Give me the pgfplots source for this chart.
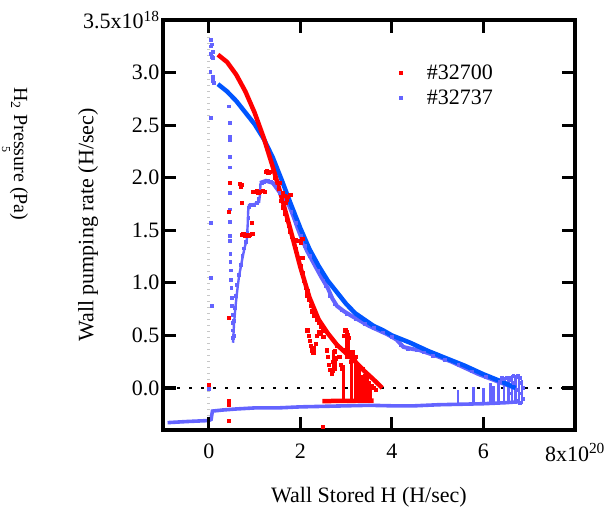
\documentclass[border=0pt]{standalone}
\usepackage{pgfplots}
\pgfplotsset{compat=1.18}
\usepackage{fontspec}
\setmainfont{Liberation Serif}
\definecolor{fitblue}{RGB}{0,85,255}
\definecolor{ptblue}{RGB}{100,100,255}
\definecolor{ptred}{RGB}{255,0,0}
\newcommand{\bigf}{\fontsize{22}{26}\selectfont}
\begin{document}
\begin{tikzpicture}
\begin{axis}[
  at={(163pt,82pt)}, anchor=south west,
  scale only axis, width=412pt, height=410pt,
  xmin=-1, xmax=8, ymin=-0.4, ymax=3.5,
  axis line style={line width=2.8pt},
  every tick/.style={line width=2.8pt, black},
  major tick length=12pt,
  tick align=inside,
  xtick={0,2,4,6,8}, xticklabels={0,2,4,6,8x10\textsuperscript{20}},
  ytick={0,0.5,1,1.5,2,2.5,3,3.5}, yticklabels={0.0,0.5,1.0,1.5,2.0,2.5,3.0,3.5x10\textsuperscript{18}},
  tick label style={font=\bigf},
  xticklabel style={yshift=-10pt},
  every axis x label/.style={at={(axis description cs:0.5,-0.163)}, anchor=center},
  every axis y label/.style={at={(axis description cs:-0.182,0.5)}, rotate=90, anchor=center},
  label style={font=\bigf},
  xlabel={Wall Stored H (H/sec)},
  ylabel={Wall pumping rate (H/sec)},
  legend style={draw=none, fill=none, font=\bigf, at={(axis description cs:0.688,0.841)}, anchor=center, row sep=5pt},
  legend cell align=left,
  legend image code/.code={\path[draw=none,fill=none] (0pt,-2pt) rectangle (27pt,2pt); \draw[mark repeat=2,mark phase=2,#1] plot coordinates {(0pt,0pt)(3pt,0pt)(27pt,0pt)};},
  unbounded coords=jump,
  clip=false,
]
% reference lines
\addplot[forget plot, black, line width=2.6pt, dash pattern=on 2.6pt off 9.4pt] coordinates {(-0.95,0) (8,0)};
\addplot[forget plot, black!22, line width=2.6pt, dash pattern=on 1pt off 5pt] coordinates {(0,-0.38) (0,3.45)};

% ---------- #32737 (blue points) ----------
\addplot[forget plot, ptblue, line width=3.6pt] coordinates {
(-0.9,-0.33)(-0.5,-0.32)(0.0,-0.31)(0.05,-0.30)(0.08,-0.22)(0.3,-0.21)(0.6,-0.20)(1.0,-0.19)(1.5,-0.19)(2.0,-0.18)(2.5,-0.175)(3.0,-0.17)(3.5,-0.165)(4.0,-0.17)(4.5,-0.17)(5.0,-0.16)(5.5,-0.155)(6.0,-0.15)(6.5,-0.14)(6.8,-0.13)};
\addplot[forget plot, ptblue, line width=2.4pt] coordinates {
(5.45,-0.16)(5.45,-0.02)(5.45,nan)
(5.78,-0.15)(5.78,0.01)(5.78,nan)
(6.0,-0.15)(6.0,0.0)(6.0,nan)
(6.15,-0.15)(6.15,0.05)(6.15,nan)
(6.22,-0.15)(6.22,0.02)(6.22,nan)
(6.33,-0.15)(6.33,0.06)(6.33,nan)
(6.45,-0.14)(6.45,0.09)(6.45,nan)
(6.55,-0.14)(6.55,0.10)(6.55,nan)
(6.62,-0.15)(6.62,0.12)(6.62,nan)
(6.70,-0.15)(6.70,0.10)(6.70,nan)
(6.78,-0.16)(6.78,0.12)(6.78,nan)
(6.84,-0.15)(6.84,0.08)};
% descending band
\addplot[forget plot, ptblue, line width=4pt] coordinates {
(1.12,1.95)(1.25,1.97)(1.4,1.95)(1.5,1.89)(1.62,1.82)(1.75,1.74)(1.85,1.63)(1.95,1.51)(2.05,1.40)(2.15,1.30)(2.3,1.18)(2.45,1.06)(2.6,0.95)(2.7,0.85)(2.8,0.78)(2.95,0.73)(3.1,0.69)(3.3,0.64)(3.5,0.59)(3.7,0.55)(3.9,0.51)(4.1,0.46)(4.25,0.39)(4.45,0.37)(4.6,0.36)(4.8,0.33)(5.0,0.30)(5.3,0.25)(5.6,0.19)(5.9,0.13)(6.2,0.08)(6.5,0.03)(6.7,0.0)};
% hump
\addplot[forget plot, ptblue, line width=2.4pt] coordinates {
(0.53,0.43)(0.55,0.6)(0.58,0.76)(0.62,0.92)(0.66,1.06)(0.72,1.2)(0.78,1.33)(0.83,1.41)(0.85,1.55)(0.86,1.68)(0.88,1.74)(1.0,1.75)(1.1,1.77)(1.12,1.85)(1.13,1.95)};
\addplot[forget plot, only marks, mark=square*, mark size=1.4pt, ptblue] coordinates {
(0.04,3.31)(0.07,3.27)(0.05,3.25)(0.08,3.20)(0.04,3.18)(0.06,3.15)(0.09,3.14)(0.03,3.01)(0.08,2.96)(0.09,2.92)(0.1,2.90)(0.04,2.57)(0.05,1.57)(0.04,1.05)(0.07,0.78)(0.0,-0.01)
(0.44,2.68)(0.45,2.52)(0.45,2.39)(0.46,2.36)(0.45,2.20)(0.46,2.10)(0.45,1.95)(0.46,1.86)(0.46,1.70)(0.46,1.58)(0.45,1.45)(0.46,1.40)(0.47,1.28)(0.47,1.20)(0.48,1.12)(0.48,1.03)(0.49,0.95)(0.50,0.86)(0.50,0.78)(0.51,0.70)(0.51,0.62)(0.52,0.55)(0.52,0.48)
(0.54,0.50)(0.55,0.64)(0.57,0.76)(0.59,0.88)(0.61,0.98)(0.65,1.08)(0.69,1.17)(0.73,1.26)(0.77,1.33)(0.81,1.39)(0.84,1.48)(0.86,1.62)(0.87,1.72)(0.92,1.74)(0.98,1.74)(1.05,1.76)(1.08,1.80)(1.12,1.88)
(1.15,1.95)(1.2,1.96)(1.3,1.97)(1.35,1.96)(1.45,1.92)(1.55,1.86)(1.68,1.78)(1.8,1.68)(1.9,1.57)(2.0,1.45)(2.1,1.35)(2.2,1.26)(2.38,1.12)(2.5,1.02)(2.55,0.97)(2.65,0.88)(2.75,0.80)(2.9,0.74)(3.0,0.71)(3.2,0.66)(3.4,0.61)(3.6,0.57)(3.8,0.53)(4.0,0.49)(4.2,0.41)(4.35,0.37)(4.55,0.36)(4.7,0.34)(4.9,0.31)(5.15,0.27)(5.45,0.22)(5.75,0.16)(6.05,0.11)(6.35,0.06)
(6.4,0.10)(6.45,0.09)(6.5,0.10)(6.55,0.08)(6.6,0.10)(6.65,0.12)(6.7,0.11)(6.75,0.12)(6.8,0.10)(6.82,0.05)(6.85,0.0)(6.8,-0.05)(6.85,-0.10)(6.8,-0.14)(6.7,-0.12)(6.65,0.05)(6.6,-0.05)(6.75,-0.02)};

% ---------- #32700 (red points) ----------
\addplot[ptred, line width=4.5pt, forget plot] coordinates {(2.48,-0.125)(3.6,-0.12)};
\addplot[forget plot, ptred, line width=2.8pt] coordinates {
(2.72,0.14)(2.72,0.36)(2.72,nan)
(2.76,0.16)(2.76,0.30)(2.76,nan)
(2.94,-0.13)(2.94,0.22)(2.94,nan)
(3.00,0.28)(3.00,0.55)(3.00,nan)
(3.06,0.30)(3.06,0.52)(3.06,nan)
(3.12,-0.13)(3.12,0.36)(3.12,nan)
(3.20,-0.13)(3.20,0.30)(3.20,nan)
(3.25,-0.13)(3.25,0.25)(3.25,nan)
(3.30,-0.13)(3.30,0.20)(3.30,nan)
(3.36,-0.13)(3.36,0.12)(3.36,nan)
(3.42,-0.13)(3.42,0.10)(3.42,nan)
(3.48,-0.13)(3.48,0.08)(3.48,nan)
(3.54,-0.13)(3.54,0.02)};
\addplot[only marks, mark=square*, mark size=1.6pt, ptred] coordinates {
(0.0,0.03)(0.44,-0.12)(0.44,-0.16)(0.44,-0.31)(2.48,-0.37)(0.44,0.67)(0.46,1.95)(0.44,1.68)
(0.67,1.94)(0.69,1.92)(0.71,1.93)(0.72,1.76)(0.96,1.87)(1.0,1.87)(1.04,1.88)(1.08,1.86)(1.12,1.87)(1.18,1.88)(1.22,1.87)(1.24,2.06)(1.27,2.07)(1.3,2.05)(1.33,2.06)(0.94,1.57)(0.72,1.46)(0.75,1.47)(0.78,1.45)(0.82,1.46)(0.86,1.45)(0.9,1.46)(0.95,1.47)
(1.6,1.80)(1.65,1.83)(1.7,1.79)(1.73,1.82)(1.78,1.84)(1.62,1.86)(1.68,1.76)(1.55,1.95)
(1.45,2.0)(1.5,1.95)(1.52,1.9)(1.58,1.78)(1.62,1.72)(1.66,1.66)(1.7,1.6)(1.74,1.54)(1.78,1.49)(1.82,1.44)(1.86,1.40)(1.9,1.41)(1.95,1.40)(2.0,1.38)(2.04,1.42)(1.9,1.32)(1.95,1.24)(2.0,1.16)(2.04,1.24)(2.04,1.1)(2.08,1.02)(2.12,0.95)(2.15,0.92)(2.14,0.88)(2.18,0.84)(2.22,0.78)(2.26,0.73)(2.3,0.69)(2.35,0.65)(2.4,0.62)(2.45,0.58)(2.5,0.55)
(2.15,0.55)(2.18,0.5)(2.2,0.45)(2.22,0.4)(2.25,0.36)(2.28,0.34)(2.3,0.38)(2.33,0.42)(2.36,0.50)(2.4,0.53)(2.45,0.52)(2.5,0.49)(2.58,0.36)(2.6,0.3)(2.62,0.22)(2.65,0.17)(2.68,0.14)(2.7,0.25)(2.75,0.35)(2.78,0.28)(2.8,0.4)(2.85,0.3)(2.88,0.22)(2.9,0.18)(2.95,0.5)(2.98,0.55)(3.02,0.53)(3.05,0.48)(3.0,0.36)(3.05,0.3)(3.1,0.25)(3.15,0.34)(3.2,0.3)(3.25,0.22)(3.3,0.2)(3.35,0.18)(3.4,0.12)(3.45,0.1)(3.5,0.05)(3.55,0.02)(3.6,0.0)(3.65,-0.02)};
\addlegendimage{only marks, mark=square*, mark size=1.4pt, ptblue}

% ---------- fits ----------
\addplot[forget plot, fitblue, line width=4.5pt] coordinates {
(0.2,2.89)(0.4,2.82)(0.6,2.73)(0.8,2.62)(1.0,2.51)(1.2,2.37)(1.4,2.19)(1.6,1.97)(1.8,1.74)(2.0,1.52)(2.2,1.32)(2.4,1.16)(2.6,1.02)(2.8,0.91)(3.0,0.80)(3.2,0.71)(3.4,0.65)(3.6,0.59)(3.8,0.55)(4.0,0.50)(4.4,0.43)(4.8,0.35)(5.2,0.28)(5.6,0.21)(6.0,0.13)(6.4,0.06)(6.7,0.0)};
\addplot[forget plot, ptred, line width=4.5pt] coordinates {
(0.2,3.17)(0.4,3.10)(0.6,2.98)(0.8,2.82)(1.0,2.62)(1.2,2.38)(1.4,2.10)(1.6,1.80)(1.8,1.48)(2.0,1.15)(2.2,0.86)(2.4,0.65)(2.6,0.52)(2.8,0.41)(3.0,0.33)(3.2,0.25)(3.4,0.16)(3.6,0.08)(3.79,0.0)};

% ---------- frame and inward ticks ----------
\addplot[forget plot, black, line width=3.2pt, line join=miter] coordinates {(-1,-0.4)(8,-0.4)(8,3.5)(-1,3.5)(-1,-0.4)(8,-0.4)};
\addplot[forget plot, black, line width=3.2pt] coordinates {
(0,-0.4)(0,-0.276)(0,nan) (2,-0.4)(2,-0.276)(2,nan) (4,-0.4)(4,-0.276)(4,nan) (6,-0.4)(6,-0.276)(6,nan)
(0,3.5)(0,3.376)(0,nan) (2,3.5)(2,3.376)(2,nan) (4,3.5)(4,3.376)(4,nan) (6,3.5)(6,3.376)(6,nan)
(-1,0)(-0.72,0)(-1,nan) (-1,0.5)(-0.72,0.5)(-1,nan) (-1,1)(-0.72,1)(-1,nan) (-1,1.5)(-0.72,1.5)(-1,nan) (-1,2)(-0.72,2)(-1,nan) (-1,2.5)(-0.72,2.5)(-1,nan) (-1,3)(-0.72,3)(-1,nan)
(8,0)(7.72,0)(8,nan) (8,0.5)(7.72,0.5)(8,nan) (8,1)(7.72,1)(8,nan) (8,1.5)(7.72,1.5)(8,nan) (8,2)(7.72,2)(8,nan) (8,2.5)(7.72,2.5)(8,nan) (8,3)(7.72,3)};

\legend{\#32700,\#32737}
\end{axis}
\node[rotate=-90, font=\fontsize{20}{24}\selectfont, anchor=center] at (19pt,358pt) {H\textsubscript{2} Pressure (Pa)};
\node[rotate=-90, font=\fontsize{12}{14}\selectfont, anchor=center, inner sep=0pt] at (6pt,362pt) {5};
\path (0,0) rectangle (614pt,512pt);
\end{tikzpicture}
\end{document}
